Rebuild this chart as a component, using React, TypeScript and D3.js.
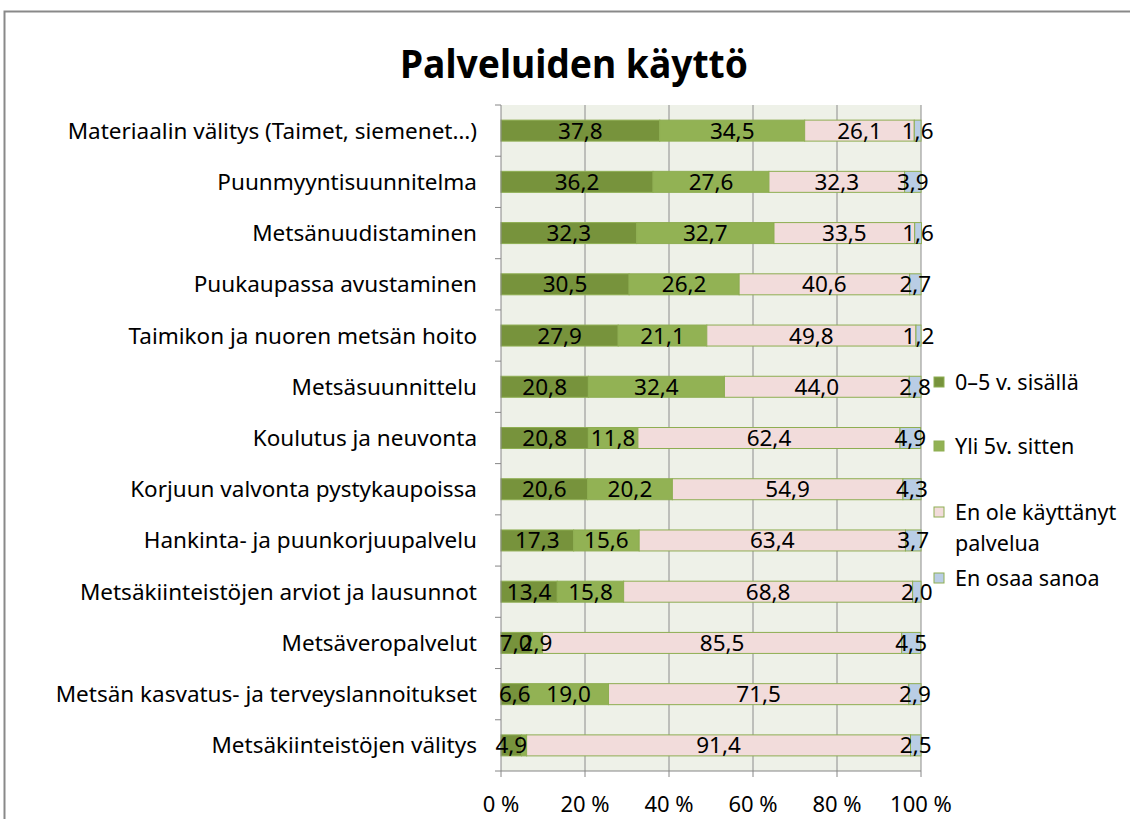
import React from "react";
import * as d3 from "d3";

const categories = [
  "Materiaalin välitys (Taimet, siemenet…)",
  "Puunmyyntisuunnitelma",
  "Metsänuudistaminen",
  "Puukaupassa avustaminen",
  "Taimikon ja nuoren metsän hoito",
  "Metsäsuunnittelu",
  "Koulutus ja neuvonta",
  "Korjuun valvonta pystykaupoissa",
  "Hankinta- ja puunkorjuupalvelu",
  "Metsäkiinteistöjen arviot ja lausunnot",
  "Metsäveropalvelut",
  "Metsän kasvatus- ja terveyslannoitukset",
  "Metsäkiinteistöjen välitys",
];

const seriesNames = ["0–5 v. sisällä", "Yli 5v. sitten", "En ole käyttänyt palvelua", "En osaa sanoa"];

const recent = [37.8, 36.2, 32.3, 30.5, 27.9, 20.8, 20.8, 20.6, 17.3, 13.4, 7.0, 6.6, 4.9];
const older = [34.5, 27.6, 32.7, 26.2, 21.1, 32.4, 11.8, 20.2, 15.6, 15.8, 2.9, 19.0, 1.2];
const never = [26.1, 32.3, 33.5, 40.6, 49.8, 44.0, 62.4, 54.9, 63.4, 68.8, 85.5, 71.5, 91.4];
const dontKnow = [1.6, 3.9, 1.6, 2.7, 1.2, 2.8, 4.9, 4.3, 3.7, 2.0, 4.5, 2.9, 2.5];

// labels not shown in the original: [row, series]
const hiddenLabels = [[12, 1]];

const xTicks = [0, 20, 40, 60, 80, 100];
const colors = ["#77933C", "#92B254", "#F2DCDB", "#B9CDE5"];

const FONT = "'Noto Sans', 'Open Sans', sans-serif";

export default function App() {
  const W = 1130, H = 819;
  const x = d3.scaleLinear().domain([0, 100]).range([501, 921]);
  const y = d3.scaleBand<string>().domain(categories).range([105, 771]).paddingInner(0.59).paddingOuter(0.295);
  const series = [recent, older, never, dontKnow];
  const fmt = (v: number) => v.toFixed(1).replace(".", ",");

  const stacked = categories.map((c, i) => {
    let acc = 0;
    return series.map((s, k) => {
      const x0 = acc;
      acc += s[i];
      return { cat: c, i, k, x0, x1: acc, v: s[i] };
    });
  });

  const step = y.step();
  const boundaries = d3.range(categories.length + 1).map((j) => 105 + j * step);

  const legend = [
    { k: 0, sy: 382, lines: [seriesNames[0]], ty: 390 },
    { k: 1, sy: 446, lines: [seriesNames[1]], ty: 454 },
    { k: 2, sy: 512, lines: ["En ole käyttänyt", "palvelua"], ty: 520 },
    { k: 3, sy: 578, lines: [seriesNames[3]], ty: 586 },
  ];

  return (
    <svg width={W} height={H} style={{ display: "block", position: "absolute", left: 0, top: 0 }} fontFamily={FONT}>
      <rect x={0} y={0} width={W} height={H} fill="#fff" />
      <path d={`M4.5,${H} L4.5,11.5 L${W},11.5`} fill="none" stroke="#898989" strokeWidth={2} />
      <text x={574} y={78} textAnchor="middle" fontSize={40} fontWeight={700} fill="#000" textLength={348} lengthAdjust="spacingAndGlyphs">
        Palveluiden käyttö
      </text>

      {/* plot background */}
      <rect x={x(0)} y={105} width={x(100) - x(0)} height={666} fill="#EEF1E8" />
      {xTicks.slice(1).map((t) => (
        <line key={t} x1={x(t)} x2={x(t)} y1={105} y2={771} stroke="#8C8C8C" strokeWidth={1} />
      ))}

      {/* bars */}
      {stacked.map((row) =>
        row.map((d) => (
          <rect key={d.i + "-" + d.k} x={x(d.x0)} y={y(d.cat)!} width={x(d.x1) - x(d.x0)} height={y.bandwidth()}
            fill={colors[d.k]} stroke="#8EAE52" strokeWidth={1} />
        ))
      )}

      {/* axes */}
      <line x1={x(0)} x2={x(0)} y1={105} y2={771} stroke="#868686" strokeWidth={1} />
      {boundaries.map((b, j) => (
        <line key={j} x1={x(0) - 6} x2={x(0)} y1={b} y2={b} stroke="#868686" strokeWidth={1} />
      ))}
      <line x1={x(0)} x2={x(100)} y1={771} y2={771} stroke="#868686" strokeWidth={1} />
      {xTicks.map((t) => (
        <g key={t}>
          <line x1={x(t)} x2={x(t)} y1={771} y2={777} stroke="#868686" strokeWidth={1} />
          <text x={x(t)} y={812} textAnchor="middle" fontSize={22} fill="#000">{t + " %"}</text>
        </g>
      ))}

      {/* data labels */}
      {stacked.map((row) =>
        row.map((d) =>
          hiddenLabels.some(([r, s]) => r === d.i && s === d.k) ? null : (
            <text key={"l" + d.i + "-" + d.k} x={x((d.x0 + d.x1) / 2)} y={y(d.cat)! + y.bandwidth() / 2 + 8}
              textAnchor="middle" fontSize={22.5} fill="#000">
              {fmt(d.v)}
            </text>
          )
        )
      )}

      {/* category labels */}
      {categories.map((c) => (
        <text key={c} x={477} y={y(c)! + y.bandwidth() / 2 + 8} textAnchor="end" fontSize={22.5} fill="#000">{c}</text>
      ))}

      {/* legend */}
      {legend.map((l) => (
        <g key={l.k}>
          <rect x={934} y={l.sy - 5} width={10} height={10} fill={colors[l.k]} stroke="#8EAE52" strokeWidth={1} />
          {l.lines.map((ln, j) => (
            <text key={j} x={955} y={l.ty + j * 31} fontSize={21.5} fill="#000">{ln}</text>
          ))}
        </g>
      ))}
    </svg>
  );
}
